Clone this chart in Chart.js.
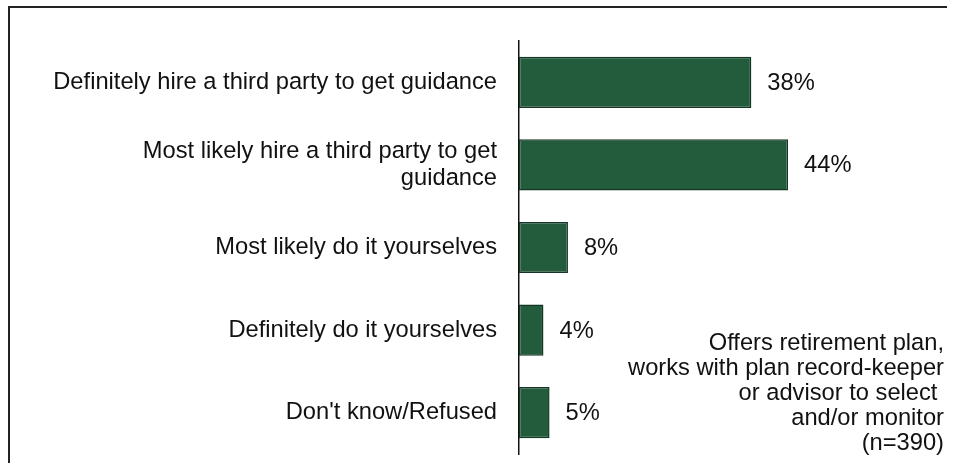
<!DOCTYPE html>
<html>
<head>
<meta charset="utf-8">
<script src="https://cdn.jsdelivr.net/npm/chart.js@4.4.0/dist/chart.umd.min.js"></script>
<style>
    html, body { margin: 0; padding: 0; background: #fff; }
    #wrap { position: relative; width: 954px; height: 463px; overflow: hidden; }
    #frame {
        position: absolute; left: 8px; top: 6px; width: 939px; height: 470px;
        border-top: 2px solid #222; border-left: 2px solid #222; box-sizing: border-box;
    }
    canvas { position: absolute; left: 0; top: 0; }
</style>
</head>
<body>
<div id="wrap">
    <div id="frame"></div>
    <canvas id="chart" width="954" height="463"></canvas>
</div>
<script>
const categories = [
    "Definitely hire a third party to get guidance",
    ["Most likely hire a third party to get", "guidance"],
    "Most likely do it yourselves",
    "Definitely do it yourselves",
    "Don't know/Refused",
];
const shares = [38, 44, 8, 4, 5];
const noteLines = [
    "Offers retirement plan,",
    "works with plan record-keeper",
    "or advisor to select ",
    "and/or monitor",
    "(n=390)",
];

const FONT = '"Liberation Sans", Arial, sans-serif';
const SIZE = 23.7;

// percentage labels just past the end of each bar
const valueLabels = {
    id: "valueLabels",
    afterDatasetsDraw(chart) {
        const ctx = chart.ctx;
        const meta = chart.getDatasetMeta(0);
        ctx.save();
        ctx.font = SIZE + "px " + FONT;
        ctx.fillStyle = "#111";
        ctx.textBaseline = "middle";
        ctx.textAlign = "left";
        meta.data.forEach((bar, i) => {
            ctx.fillText(shares[i] + "%", bar.x + 16, bar.y + 1);
        });
        ctx.restore();
    },
};

const note = {
    id: "note",
    afterDraw(chart) {
        const ctx = chart.ctx;
        ctx.save();
        ctx.font = SIZE + "px " + FONT;
        ctx.fillStyle = "#111";
        ctx.textBaseline = "middle";
        ctx.textAlign = "right";
        noteLines.forEach((line, i) => {
            ctx.fillText(line, 944, 343 + i * 25);
        });
        ctx.restore();
    },
};

new Chart(document.getElementById("chart").getContext("2d"), {
    type: "bar",
    data: {
        labels: categories,
        datasets: [
            {
                data: shares,
                backgroundColor: "#235b3d",
                borderColor: "#143624",
                borderWidth: 1.5,
                borderSkipped: false,
                categoryPercentage: 1,
                barPercentage: 0.62,
            },
        ],
    },
    options: {
        indexAxis: "y",
        responsive: false,
        animation: false,
        layout: { padding: { top: 41, bottom: 9, right: 7, left: 0 } },
        plugins: {
            legend: { display: false },
            tooltip: { enabled: false },
        },
        scales: {
            x: { display: false, min: 0, max: 70 },
            y: {
                afterFit(scale) {
                    scale.width = 519;
                    scale.paddingTop = 0;
                    scale.paddingBottom = 0;
                },
                grid: { display: false, drawTicks: false },
                border: { display: true, color: "#111", width: 1.5 },
                ticks: {
                    padding: 22,
                    color: "#111",
                    font: { family: FONT, size: SIZE, lineHeight: 1.12 },
                },
            },
        },
    },
    plugins: [valueLabels, note],
});
</script>
</body>
</html>
